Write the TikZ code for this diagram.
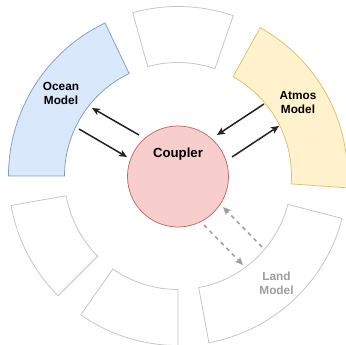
\documentclass[tikz,border=0pt]{standalone}
\usepackage{fontspec}
\setmainfont{Liberation Sans}
\usetikzlibrary{arrows.meta}
\definecolor{oceanfill}{HTML}{DAE8FC}
\definecolor{oceanline}{HTML}{7E9CC8}
\definecolor{atmosfill}{HTML}{FFF2CC}
\definecolor{atmosline}{HTML}{DDC068}
\definecolor{coupfill}{HTML}{F8CECC}
\definecolor{coupline}{HTML}{C06A66}
\definecolor{emptyline}{HTML}{C4C4C4}
\definecolor{landtext}{HTML}{9E9E9E}
\definecolor{arrowdark}{HTML}{222222}
\tikzset{
  sector/.style={line width=0.75pt, line join=miter},
  emptysector/.style={sector, draw=emptyline, fill=white},
  label/.style={align=center, font=\fontsize{11.8}{14}\selectfont\bfseries, inner sep=0pt},
  solidarrow/.style={draw=arrowdark, line width=1.5pt, -{Stealth[length=8pt,width=7pt,inset=2pt]}},
  dasharrow/.style={draw=landtext, line width=1.5pt, dash pattern=on 4pt off 4pt, -{Stealth[length=8pt,width=7pt,inset=2pt]}}
}
\newcommand{\annsector}[3]{% style, start angle, end angle
  \path[#1, shift={(178pt,169pt)}] (#2:169.5pt) arc[start angle=#2, end angle=#3, radius=169.5pt]
    -- (#3:113.5pt) arc[start angle=#3, end angle=#2, radius=113.5pt] -- cycle;}
\begin{document}
\begin{tikzpicture}[x=1pt, y=1pt]
  \useasboundingbox (0,0) rectangle (346,345);
  \clip (0,0) rectangle (346,345);
  % ring sectors
  \annsector{emptysector}{71}{105.5}
  \annsector{sector, draw=oceanline, fill=oceanfill}{115.5}{180}
  \annsector{emptysector}{190}{225}
  \annsector{emptysector}{235}{270}
  \annsector{emptysector}{280.5}{345.5}
  \annsector{sector, draw=atmosline, fill=atmosfill}{356}{421}
  % coupler
  \node[circle, draw=coupline, fill=coupfill, line width=0.75pt, minimum size=101pt, inner sep=0pt] (coupler) at (178,168.5) {};
  \node[inner sep=0pt, font=\fontsize{13.2}{16}\selectfont\bfseries] (couplertext) at (178,191) {Coupler};
  % labels
  \node[label] (ocean) at (61,252) {Ocean\\Model};
  \node[label] (atmos) at (298,242) {Atmos\\Model};
  \node[label, text=landtext] (land) at (276.5,62) {Land\\Model};
  % arrow end points
  \coordinate (oo1) at (139,210); \coordinate (oo2) at (92,237);
  \coordinate (oi1) at (79,216);  \coordinate (oi2) at (127,188);
  \coordinate (ai1) at (264,241); \coordinate (ai2) at (217,210);
  \coordinate (ao1) at (232,188); \coordinate (ao2) at (279,219);
  \coordinate (li1) at (262,98);  \coordinate (li2) at (223,138);
  \coordinate (lo1) at (204,120); \coordinate (lo2) at (243,80);
  \draw[solidarrow] (oo1) -- (oo2);
  \draw[solidarrow] (oi1) -- (oi2);
  \draw[solidarrow] (ai1) -- (ai2);
  \draw[solidarrow] (ao1) -- (ao2);
  \draw[dasharrow] (li1) -- (li2);
  \draw[dasharrow] (lo1) -- (lo2);
\end{tikzpicture}
\end{document}
